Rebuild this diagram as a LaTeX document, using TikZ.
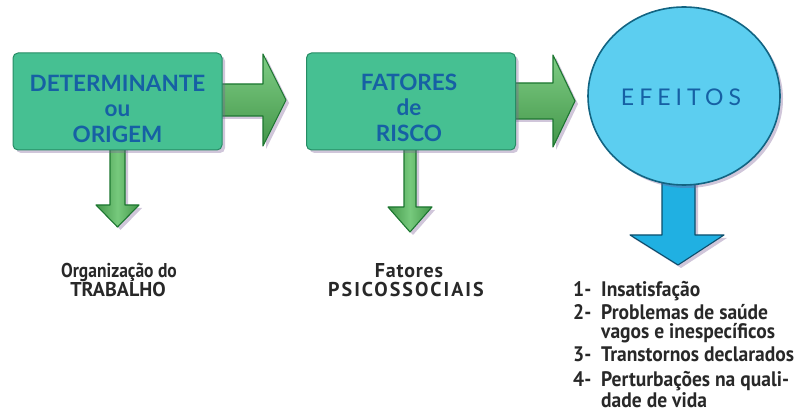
\documentclass[tikz,border=0pt]{standalone}
\usepackage{fontspec}
\setmainfont{Lato}
\newfontfamily\titlefont{Lato}
\newfontfamily\efont{Lato}[LetterSpace=22]
\newfontfamily\listfont{PT Sans}[FakeStretch=0.93]
\newfontfamily\bottomfont{PT Sans}[FakeStretch=0.875]
\newfontfamily\bottomcaps{PT Sans}
\usetikzlibrary{shadows,calc,shapes.geometric}
\definecolor{boxgreen}{RGB}{70,192,146}
\definecolor{boxedge}{RGB}{38,140,100}
\definecolor{argreen}{RGB}{84,188,92}
\definecolor{aredge}{RGB}{28,118,48}
\definecolor{titleblue}{RGB}{22,96,164}
\definecolor{circblue}{RGB}{92,206,240}
\definecolor{circedge}{RGB}{18,100,130}
\definecolor{arblue}{RGB}{32,176,226}
\definecolor{arblueedge}{RGB}{12,78,108}
\definecolor{shadowc}{RGB}{120,92,150}
\definecolor{textgray}{RGB}{40,40,40}
\tikzset{
  softshadow/.style={drop shadow={shadow xshift=3pt,shadow yshift=-3pt,fill=shadowc,opacity=0.35}},
  greenbox/.style={rectangle,rounded corners=5pt,minimum width=209pt,minimum height=97pt,
    fill=boxgreen,draw=boxedge,line width=1pt,softshadow},
  boxtext/.style={align=center,text=titleblue,font=\titlefont\bfseries\fontsize{22.5}{25.5}\selectfont},
  greenarrow/.style={top color=argreen!75!white,bottom color=argreen!80!black,draw=aredge,line width=1.1pt,line join=round,softshadow},
  greendown/.style={left color=argreen!80!black,right color=argreen!80!black,middle color=argreen!80!white,draw=aredge,line width=1.1pt,line join=round,softshadow},
  bluearrow/.style={fill=arblue,draw=arblueedge,line width=1.1pt,line join=round,softshadow},
  bottomtext/.style={anchor=base,inner sep=0pt,text=textgray,font=\bottomfont\bfseries\fontsize{20}{20}\selectfont},
  bottomcapstext/.style={anchor=base,inner sep=0pt,text=textgray,font=\bottomcaps\bfseries\fontsize{20}{20}\selectfont},
  listnum/.style={anchor=base west,inner sep=0pt,text=textgray,font=\listfont\bfseries\fontsize{21}{21}\selectfont},
  listitem/.style={anchor=base west,inner sep=0pt,text=textgray,font=\listfont\bfseries\fontsize{21}{21}\selectfont}
}
\begin{document}
\begin{tikzpicture}[x=1pt,y=-1pt]
\useasboundingbox (0,0) rectangle (794,419);
% main shapes (positions)
\coordinate (detc) at (117.5,101.5);
\coordinate (fatc) at (411,101.5);
\coordinate (efc) at (684,96);
% arrows behind boxes
\draw[greenarrow] ($(detc)+(94.5,-17.5)$) -- ++(51,0) -- ++(0,-30) -- ++(23,46) -- ++(-23,46) -- ++(0,-30) -- ++(-51,0) -- cycle;
\draw[greendown] ($(detc)+(-7.5,40)$) -- ++(0,63.5) -- ++(-14,0) -- ++(21.5,22) -- ++(21.5,-22) -- ++(-14,0) -- ++(0,-63.5) -- cycle;
\draw[greenarrow] ($(fatc)+(94,-18.5)$) -- ++(48,0) -- ++(0,-28) -- ++(22,46) -- ++(-22,46) -- ++(0,-28) -- ++(-48,0) -- cycle;
\draw[greendown] ($(fatc)+(-7,40)$) -- ++(0,65.5) -- ++(-16,0) -- ++(22,25) -- ++(22,-25) -- ++(-16,0) -- ++(0,-65.5) -- cycle;
\draw[bluearrow] ($(efc)+(-22,70)$) -- ++(0,69) -- ++(-32,0) -- ++(48,30) -- ++(46,-30) -- ++(-29,0) -- ++(0,-69) -- cycle;
% boxes and circle
\node[greenbox] (det) at (detc) {};
\node[greenbox] (fat) at (fatc) {};
\node[ellipse,minimum width=192pt,minimum height=178pt,inner sep=0pt,fill=circblue,draw=circedge,line width=1.6pt,softshadow] (ef) at (efc) {};
\node[boxtext] (dett) at ($(det)+(0,7)$) {DETERMINANTE\\ou\\ORIGEM};
\node[boxtext] (fatt) at ($(fat)+(-2,6)$) {FATORES\\de\\RISCO};
\node[text=titleblue,font=\efont\fontsize{23}{25}\selectfont] (eft) at ($(ef)+(-3,1)$) {EFEITOS};
% bottom labels
\node[bottomtext] (org1) at (119,277) {Organização do};
\node[bottomcapstext] (org2) at (118,296) {TRABALHO};
\node[bottomcapstext] (psi1) at (409,277) {\addfontfeatures{LetterSpace=4}Fatores};
\node[bottomcapstext] (psi2) at (406,296) {\addfontfeatures{LetterSpace=10}PSICOSSOCIAIS};
% list
\node[listnum] (n1) at (573,297) {1-};
\node[listitem] (i1) at (601,297) {Insatisfação};
\node[listnum] (n2) at (573,319) {2-};
\node[listitem] (i2) at (601,319) {Problemas de saúde};
\node[listitem] (i2b) at (601,338) {vagos e inespecíficos};
\node[listnum] (n3) at (573,361) {3-};
\node[listitem] (i3) at (601,361) {Transtornos declarados};
\node[listnum] (n4) at (573,386) {4-};
\node[listitem] (i4) at (601,386) {Perturbações na quali-};
\node[listitem] (i4b) at (601,407) {dade de vida};
\end{tikzpicture}
\end{document}
